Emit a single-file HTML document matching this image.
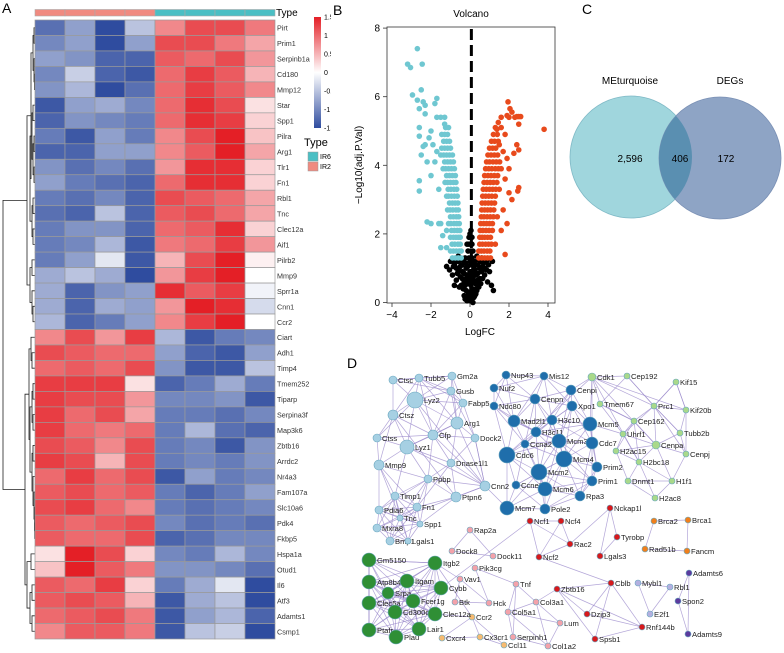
<!DOCTYPE html>
<html><head><meta charset="utf-8">
<style>
html,body{margin:0;padding:0;background:#fff;}
body{width:784px;height:653px;position:relative;overflow:hidden;font-family:"Liberation Sans",sans-serif;}
svg{position:absolute;left:0;top:0;}
text{font-family:"Liberation Sans",sans-serif;}
</style></head>
<body>
<svg id="fig" width="784" height="653" viewBox="0 0 784 653">
  <defs>
    <linearGradient id="cbar" x1="0" y1="0" x2="0" y2="1">
      <stop offset="0" stop-color="#e41f26"/>
      <stop offset="0.5" stop-color="#ffffff"/>
      <stop offset="1" stop-color="#2f4c9f"/>
    </linearGradient>
    <clipPath id="clipA"><rect x="0" y="0" width="331" height="653"/></clipPath>
    <clipPath id="clipLeft"><circle cx="631" cy="157" r="61"/></clipPath>
  </defs>
  <g id="panelA" clip-path="url(#clipA)">
    <text x="2" y="13" font-size="14">A</text>
    <g id="dendro"></g>
    <g id="typebar"></g>
    <g id="cells"></g>
    <g id="rowlabels"></g>
    <text x="276" y="16" font-size="10">Type</text>
    <rect x="314" y="17" width="7" height="111" fill="url(#cbar)"/>
    <g id="cbticks" font-size="7"></g>
    <text x="304" y="146" font-size="11">Type</text>
    <rect x="308" y="152" width="10" height="9" fill="#4bbfc4" stroke="#999" stroke-width="0.5"/>
    <text x="320" y="159" font-size="7">IR6h</text>
    <rect x="308" y="162" width="10" height="9" fill="#f08a80" stroke="#999" stroke-width="0.5"/>
    <text x="320" y="169" font-size="7">IR24h</text>
  </g>

  <g id="panelB">
    <text x="333" y="15" font-size="14">B</text>
    <text x="471" y="17" font-size="10" text-anchor="middle">Volcano</text>
    <rect x="387" y="27" width="168" height="276" fill="none" stroke="#333" stroke-width="0.8"/>
    <g id="vpoints"></g>
    <line id="vline" x1="0" x2="0" y1="29" y2="302" stroke="#000" stroke-width="3" stroke-dasharray="11,5"/>
    <g id="vaxes" font-size="10"></g>
    <text x="480" y="335" font-size="10" text-anchor="middle">LogFC</text>
    <text x="0" y="0" font-size="10" text-anchor="middle" transform="translate(362,165) rotate(-90)">−Log10(adj.P.Val)</text>
  </g>

  <g id="panelC">
    <text x="582" y="14" font-size="14">C</text>
    <text x="630" y="84" font-size="10" text-anchor="middle">MEturquoise</text>
    <text x="730" y="84" font-size="10" text-anchor="middle">DEGs</text>
    <circle cx="631" cy="157" r="61" fill="#a0d6dd" stroke="#7fb9c6" stroke-width="0.8"/>
    <circle cx="720" cy="158" r="61" fill="#8ea4c5" stroke="#7a90b5" stroke-width="0.8"/>
    <circle cx="720" cy="158" r="61" fill="#5a8fb1" clip-path="url(#clipLeft)"/>
    <text x="630" y="162" font-size="10" text-anchor="middle">2,596</text>
    <text x="680" y="162" font-size="10" text-anchor="middle">406</text>
    <text x="726" y="162" font-size="10" text-anchor="middle">172</text>
  </g>

  <g id="panelD">
    <text x="347" y="368" font-size="14">D</text>
    <g id="edges"></g>
    <g id="nodes"></g>
  </g>
</svg>
<script>
var NS='http://www.w3.org/2000/svg';
function mk(tag,attrs,parent){var e=document.createElementNS(NS,tag);for(var k in attrs)e.setAttribute(k,attrs[k]);if(parent)parent.appendChild(e);return e;}

/* ---------- Heatmap data ---------- */
var genes=["Pirt","Prim1","Serpinb1a","Cd180","Mmp12","Star","Spp1","Pilra","Arg1","Tlr1","Fn1","Rbl1","Tnc","Clec12a","Aif1","Pilrb2","Mmp9","Sprr1a","Cnn1","Ccr2","Ciart","Adh1","Timp4","Tmem252","Tiparp","Serpina3f","Map3k6","Zbtb16","Arrdc2","Nr4a3","Fam107a","Slc10a6","Pdk4","Fkbp5","Hspa1a","Otud1","Il6","Atf3","Adamts1","Csmp1"];
var sampleTypes=["IR24h","IR24h","IR24h","IR24h","IR6h","IR6h","IR6h","IR6h"];
var heatValues=[
[-1.2,-0.8,-1.5,-0.5,0.8,1.2,1.2,0.9],
[-1.0,-0.8,-1.5,-0.8,1.2,1.2,0.9,0.6],
[-0.8,-0.9,-1.3,-1.3,1.1,1.0,1.2,0.7],
[-1.0,-0.4,-1.3,-1.4,1.0,1.3,1.1,0.5],
[-0.9,-0.6,-1.5,-1.2,1.0,1.3,1.1,0.8],
[-1.4,-0.8,-0.7,-1.0,1.0,1.4,1.2,0.2],
[-1.3,-0.9,-1.0,-1.1,1.0,1.4,1.3,0.3],
[-1.1,-1.4,-0.8,-1.1,0.8,1.2,1.5,0.4],
[-1.3,-1.3,-0.8,-0.8,0.8,1.1,1.5,0.6],
[-0.9,-1.2,-1.0,-1.2,0.7,1.4,1.4,0.3],
[-0.8,-1.1,-1.2,-1.3,1.0,1.4,1.4,0.3],
[-1.1,-1.2,-1.0,-1.3,1.2,1.1,1.0,0.6],
[-1.2,-1.3,-0.5,-1.3,1.1,1.2,1.0,0.6],
[-1.1,-0.9,-0.9,-1.3,1.0,1.1,1.4,0.3],
[-1.1,-1.0,-0.6,-1.4,0.9,1.0,1.3,0.7],
[-1.1,-0.8,-0.2,-1.4,0.5,1.2,1.6,0.1],
[-0.7,-0.5,-0.7,-1.5,0.7,1.3,1.6,0.0],
[-0.7,-1.3,-0.9,-0.8,1.4,1.1,1.3,-0.1],
[-0.7,-1.3,-0.7,-0.8,0.7,1.5,1.4,-0.3],
[-0.6,-1.3,-1.1,-0.8,0.8,1.3,1.6,0.0],
[0.8,1.2,0.7,1.3,-0.6,-1.4,-1.1,-1.0],
[1.2,1.1,1.0,1.0,-0.8,-1.3,-1.4,-0.8],
[1.0,1.1,1.0,1.2,-0.9,-1.4,-1.4,-0.5],
[1.3,1.3,1.3,0.2,-1.3,-1.1,-0.7,-1.1],
[1.3,1.2,1.2,0.7,-1.0,-1.0,-0.9,-1.4],
[1.3,1.0,1.2,0.6,-1.1,-1.1,-1.2,-1.0],
[1.3,1.0,0.9,1.0,-1.1,-0.6,-1.2,-1.3],
[1.2,1.1,0.8,1.2,-1.1,-1.0,-1.4,-0.9],
[1.3,1.2,0.5,1.2,-1.1,-1.0,-1.1,-0.9],
[1.0,1.3,1.0,1.2,-1.4,-0.8,-1.1,-1.0],
[1.1,1.2,1.0,1.1,-1.1,-1.3,-1.1,-0.8],
[1.2,1.3,1.0,0.8,-1.1,-1.2,-1.1,-1.0],
[1.1,1.0,1.1,1.2,-1.0,-1.2,-1.1,-1.2],
[1.1,1.0,1.0,1.2,-1.3,-1.2,-1.0,-1.0],
[0.2,1.6,1.2,0.3,-1.0,-1.1,-0.6,-1.0],
[0.4,1.5,1.1,0.9,-0.9,-0.9,-1.0,-1.2],
[1.1,1.0,1.3,0.3,-1.1,-0.7,-0.2,-1.5],
[1.1,1.2,1.1,0.5,-1.4,-0.7,-0.5,-1.5],
[1.0,1.1,1.2,0.9,-1.4,-0.8,-0.6,-1.3],
[0.8,1.1,1.1,0.9,-1.4,-0.5,-0.4,-1.5]];
var colorScaleTicks=["1.5","1","0.5","0","-0.5","-1","-1.5"];
var dendroTree=[3,
 [27,[31,[33,[34,0,1],[34,2,[34.5,3,4]]],[30,[32,[33,5,6],[33,[34,7,8],[34,9,10]]],[32,[33,11,12],[33,13,14]]]],[30,[32,15,16],[32,17,[33,18,19]]]],
 [25,[29,[31,20,[32,21,22]],[30,[32,[33,23,24],[33,25,26]],[32,[33,27,28],[33,29,[34,30,[34.5,31,[34.7,32,33]]]]]]],[27,[31,34,35],[30,[32,36,37],[32,38,39]]]]];

var HX0=35,HX1=275,HY0=20,HY1=639;
var cw=(HX1-HX0)/sampleTypes.length, ch=(HY1-HY0)/genes.length;
function colX(j){return HX0+j*cw;}
function rowY(i){return HY0+i*ch;}
function heatColor(v){
  var t=Math.max(-1,Math.min(1,v/1.5));
  var c1=[255,255,255],c2=t>=0?[228,31,38]:[47,76,159];var a=Math.abs(t);
  var r=Math.round(c1[0]+(c2[0]-c1[0])*a),g=Math.round(c1[1]+(c2[1]-c1[1])*a),b=Math.round(c1[2]+(c2[2]-c1[2])*a);
  return 'rgb('+r+','+g+','+b+')';
}
var gCells=document.getElementById('cells'),gLab=document.getElementById('rowlabels'),gType=document.getElementById('typebar');
sampleTypes.forEach(function(t,j){
  var r=mk('rect',{x:colX(j),y:9.5,width:cw,height:6.5,fill:t==='IR6h'?'#4bbfc4':'#f08a80',stroke:'#aaa','stroke-width':0.6},gType);
  
  
});
heatValues.forEach(function(row,i){
  row.forEach(function(v,j){
    var r=mk('rect',{x:colX(j),y:rowY(i),width:cw,height:ch,fill:heatColor(v),stroke:'#9a9a9a','stroke-width':0.7},gCells);
    
    
  });
  var t=mk('text',{x:277,y:rowY(i)+ch/2+3,'font-size':7.2,fill:'#333'},gLab);
  t.textContent=genes[i];
  
  
});
var gcb=document.getElementById('cbticks');
colorScaleTicks.forEach(function(s,k){
  var v=parseFloat(s);var y=17+(1.5-v)/3*111;
  var t=mk('text',{x:324,y:y+2.5},gcb);t.textContent=s;
  
  
});
var gD=document.getElementById('dendro');
function drawNode(n){
  if(typeof n==='number')return {x:HX0,y:rowY(n)+ch/2};
  var a=drawNode(n[1]),b=drawNode(n[2]),x=n[0];
  var p=mk('path',{d:'M'+a.x+','+a.y+'H'+x+'V'+b.y+'H'+b.x,fill:'none',stroke:'#222','stroke-width':0.8},gD);
  
  
  return {x:x,y:(a.y+b.y)/2};
}
drawNode(dendroTree);

/* ---------- Volcano data ---------- */
var upPoints=[[1.95,5.85],[2.05,5.65],[2.15,5.55],[1.9,5.45],[2.0,5.4],[1.6,5.4],[2.3,5.4],[2.4,5.42],[2.5,5.42],[2.6,5.42],[2.5,5.2],[1.3,5.1],[1.6,5.1],[1.8,4.9],[1.4,4.9],[2.4,4.6],[2.5,4.45],[2.25,4.35],[3.8,5.05],[2.0,3.9],[1.8,3.6],[2.5,3.35],[2.45,3.25],[2.0,3.2],[2.15,3.0],[1.7,2.7],[1.9,2.3],[1.6,2.1],[1.8,1.4],[1.3,1.7],[1.5,4.6],[1.7,4.4],[1.9,4.2],[1.6,3.9],[1.5,3.3],[1.4,2.5],
[0.45,1.3],[0.6,1.3],[0.75,1.3],[0.9,1.3],[1.05,1.3],[0.45,1.5],[0.58,1.5],[0.72,1.5],[0.88,1.5],[1.02,1.5],[0.5,1.7],[0.64,1.7],[0.8,1.7],[0.95,1.7],[1.1,1.7],[0.5,1.9],[0.62,1.9],[0.75,1.9],[0.9,1.9],[1.05,1.9],[0.52,2.1],[0.66,2.1],[0.82,2.1],[0.98,2.1],[1.15,2.1],[0.55,2.3],[0.7,2.3],[0.85,2.3],[1.0,2.3],[1.15,2.3],[0.58,2.5],[0.72,2.5],[0.88,2.5],[1.04,2.5],[1.2,2.5],[0.6,2.7],[0.75,2.7],[0.9,2.7],[1.05,2.7],[1.22,2.7],[0.62,2.9],[0.78,2.9],[0.94,2.9],[1.1,2.9],[1.26,2.9],[0.65,3.1],[0.8,3.1],[0.96,3.1],[1.12,3.1],[1.3,3.1],[0.68,3.3],[0.84,3.3],[1.0,3.3],[1.16,3.3],[1.32,3.3],[0.72,3.5],[0.88,3.5],[1.04,3.5],[1.2,3.5],[1.38,3.5],[0.75,3.7],[0.92,3.7],[1.08,3.7],[1.25,3.7],[1.42,3.7],[0.8,3.9],[0.96,3.9],[1.12,3.9],[1.3,3.9],[1.46,3.9],[0.85,4.1],[1.0,4.1],[1.18,4.1],[1.35,4.1],[1.52,4.1],[0.92,4.3],[1.08,4.3],[1.25,4.3],[1.42,4.3],[1.0,4.5],[1.16,4.5],[1.32,4.5],[1.1,4.7],[1.26,4.7],[1.45,4.7],[1.2,4.9],[1.38,5.05],[1.45,5.25]];
var downPoints=[[-2.7,7.4],[-3.2,6.95],[-3.05,6.85],[-2.45,6.95],[-2.95,6.05],[-2.5,6.2],[-2.7,5.9],[-2.4,5.85],[-2.3,5.75],[-1.7,5.95],[-1.8,5.8],[-2.6,5.65],[-2.3,5.5],[-1.5,5.4],[-1.7,5.4],[-1.3,5.4],[-2.6,5.1],[-2.0,5.0],[-2.6,4.85],[-2.1,4.8],[-1.3,5.2],[-1.1,5.1],[-2.3,4.6],[-2.4,4.55],[-1.9,4.6],[-2.5,4.3],[-2.2,4.1],[-2.6,3.55],[-2.6,3.25],[-2.0,3.7],[-2.2,2.35],[-2.0,2.3],[-1.6,2.3],[-1.5,2.3],[-1.2,2.1],[-1.4,1.95],[-1.5,1.6],[-1.2,1.6],[-1.7,4.4],[-1.8,4.1],[-1.6,3.3],
[-0.45,1.3],[-0.6,1.3],[-0.75,1.3],[-0.9,1.3],[-0.45,1.5],[-0.55,1.5],[-0.7,1.5],[-0.85,1.5],[-1.0,1.5],[-0.5,1.7],[-0.62,1.7],[-0.78,1.7],[-0.92,1.7],[-0.5,1.9],[-0.6,1.9],[-0.72,1.9],[-0.85,1.9],[-1.0,1.9],[-0.52,2.1],[-0.65,2.1],[-0.8,2.1],[-0.95,2.1],[-0.55,2.3],[-0.68,2.3],[-0.82,2.3],[-0.98,2.3],[-1.1,2.3],[-0.58,2.5],[-0.7,2.5],[-0.85,2.5],[-1.0,2.5],[-0.6,2.7],[-0.72,2.7],[-0.88,2.7],[-1.02,2.7],[-1.15,2.7],[-0.62,2.9],[-0.76,2.9],[-0.9,2.9],[-1.05,2.9],[-0.65,3.1],[-0.8,3.1],[-0.95,3.1],[-1.1,3.1],[-1.2,3.1],[-0.68,3.3],[-0.82,3.3],[-0.98,3.3],[-1.12,3.3],[-0.72,3.5],[-0.85,3.5],[-1.0,3.5],[-1.15,3.5],[-1.28,3.5],[-0.75,3.7],[-0.9,3.7],[-1.05,3.7],[-1.2,3.7],[-0.8,3.9],[-0.95,3.9],[-1.1,3.9],[-1.25,3.9],[-1.38,3.9],[-0.85,4.1],[-1.0,4.1],[-1.15,4.1],[-1.3,4.1],[-0.9,4.3],[-1.05,4.3],[-1.2,4.3],[-1.35,4.3],[-1.5,4.3],[-1.0,4.5],[-1.15,4.5],[-1.3,4.5],[-1.45,4.5],[-1.05,4.7],[-1.2,4.7],[-1.35,4.7],[-1.15,4.9],[-1.3,4.9],[-1.45,4.9],[-1.25,5.1]];
var nsPoints=[[0,0.05],[0.1,0.1],[-0.1,0.2],[0.2,0.3],[-0.2,0.35],[0.05,0.5],[0.3,0.55],[-0.3,0.6],[0.15,0.7],[-0.15,0.8],[0.4,0.85],[-0.4,0.9],[0.5,1.0],[-0.5,1.05],[0.3,1.1],[-0.3,1.15],[0.55,1.2],[-0.6,1.2],[0.45,1.25],[-0.45,1.25],[0.2,1.0],[-0.2,1.0],[0.0,0.3],[0.0,0.9],[0.1,1.3],[-0.1,1.5],[0.1,1.7],[-0.05,1.9],[0.05,2.1],[0.25,0.2],[-0.25,0.1],[0.6,0.9],[-0.7,1.0],[-0.9,0.8],[-1.2,1.05],[1.1,0.5],[0.8,1.2],[0.9,0.6],[-0.8,0.5],[0.35,0.35],[-0.35,0.4],[0.7,1.15],[-0.75,1.2],[0.95,1.1],[-1.0,1.2],[0.15,0.0],[-0.05,0.65],[0.25,0.95],[-0.25,1.3],[0.35,1.35],[0.1,0.4],[-0.1,0.55],[0.2,0.6],[-0.2,0.7],[0.3,0.8],[-0.3,0.85],[0.4,1.1],[-0.4,1.1],[0.6,1.3],[-0.6,1.35],[0.05,1.1],[-0.05,1.3],[0.15,1.5],[-0.15,1.7],[0.0,0.15],[0.08,0.25],[-0.08,0.3],
[0.5,0.7],[-0.5,0.75],[0.65,1.05],[-0.65,0.85],[0.45,0.45],[-0.45,0.5],[0.3,0.25],[-0.3,0.2],[0.75,0.8],[-0.7,0.65],[0.85,0.95],[-0.85,1.05],[0.55,0.55],[-0.55,0.45],[0.2,0.15],[-0.15,0.05],[0.0,0.6],[0.12,0.85],[-0.12,1.05],[0.22,1.2],[-0.22,1.15],[0.4,0.65],[-0.4,0.7],[0.65,0.7],[-0.6,0.95],[0.75,1.0],[-0.8,1.1],[0.9,1.25],[-0.9,1.25],[1.0,0.9],[-1.05,0.95],[0.3,0.4],[-0.25,0.5],[0.1,0.7],[-0.05,0.8],[0.15,1.1],[0.0,1.2],[0.05,1.5],[-0.05,1.7],[0.1,1.9],[0.0,2.0],[1.15,1.2],[1.2,0.35]];
var xTicks=[-4,-2,0,2,4];
var yTicks=[0,2,4,6,8];
var thresholdFC=[0.07];
function vx(v){return 392+(v+4)*19.5;}
function vy(v){return 302.5-v*34.3;}
var gV=document.getElementById('vpoints');
function plotPts(arr,col,name){arr.forEach(function(p){
  var c=mk('circle',{cx:vx(p[0]),cy:vy(p[1]),r:2.8,fill:col},gV);
  
  
});}
plotPts(nsPoints,'#000','point-not-significant');
plotPts(downPoints,'#6fc7d1','point-downregulated');
plotPts(upPoints,'#e84a1c','point-upregulated');
var vl=document.getElementById('vline');vl.setAttribute('x1',vx(thresholdFC[0]));vl.setAttribute('x2',vx(thresholdFC[0]));
var gA=document.getElementById('vaxes');
xTicks.forEach(function(t){
  var l=mk('line',{x1:vx(t),x2:vx(t),y1:303,y2:307,stroke:'#333','stroke-width':0.8},gA);
  
  
  var s=mk('text',{x:vx(t),y:318,'text-anchor':'middle'},gA);s.textContent=(t<0?'−':'')+Math.abs(t);
  
  
});
yTicks.forEach(function(t){
  var l=mk('line',{x1:383,x2:387,y1:vy(t),y2:vy(t),stroke:'#333','stroke-width':0.8},gA);
  
  
  var s=mk('text',{x:380,y:vy(t)+3.5,'text-anchor':'end'},gA);s.textContent=t;
  
  
});

/* ---------- Network data ---------- */
var groupColors={lb:'#a6d0e3',db:'#1f6eab',lg:'#a9d98a',dg:'#2f8f35',red:'#d7191c',org:'#f07f1c',lav:'#b3b0e0',pur:'#5b3b9e',pink:'#f3a2aa',lorg:'#f6bb72'};
var nodeNames=["Ctsc","Tubb5","Gm2a","Gusb","Lyz2","Fabp5","Ctsz","Arg1","Cfp","Dock2","Ctss","Lyz1","Dnase1l1","Mmp9","Ppbp","Cnn2","Ptpn6","Timp1","Fn1","Pdia6","Tnc","Spp1","Mxra8","Bmp1","Lgals1",
"Nup43","Mis12","Nuf2","Cenpi","Cenpn","Ndc80","Xpo1","Mad2l1","H3c10","Mcm5","H3c11","Ccna2","Mcm3","Cdc7","Cdc6","Mcm4","Prim2","Mcm2","Prim1","Ccne2","Mcm6","Rpa3","Mcm7","Pole2",
"Cdk1","Cep192","Kif15","Tmem67","Prc1","Kif20b","Cep162","Tubb2b","Uhrf1","Cenpa","H2ac15","Cenpj","H2bc18","Dnmt1","H1f1","H2ac8",
"Nckap1l","Ncf1","Ncf4","Tyrobp","Rac2","Ncf2","Lgals3","Zbtb16","Cblb","Dzip3","Rnf144b","Spsb1",
"Brca2","Brca1","Rad51b","Fancm","Mybl1","Rbl1","E2f1","Adamts6","Spon2","Adamts9",
"Rap2a","Dock8","Dock11","Pik3cg","Vav1","Tnf","Btk","Hck","Col3a1","Col5a1","Lum","Serpinh1","Col1a2",
"Ccr2","Cxcr4","Cx3cr1","Ccl11",
"Gm5150","Itgb2","Atp8b4","Itgam","Cybb","Srpa","Fcer1g","Clec5a","Cd300c2","Clec12a","Ptafr","Lair1","Plau"];
var nodeX=[393,419,452,451,415,463,393,457,433,475,377,407,451,379,428,485,456,395,417,379,400,420,377,390,408,
506,544,494,571,535,494,572,514,552,590,536,525,559,592,507,564,597,539,592,516,545,580,507,545,
592,627,676,600,654,686,634,680,623,656,616,686,639,628,672,655,
610,530,561,617,570,539,600,557,611,587,642,595,
654,688,645,687,638,670,650,689,678,688,
470,452,493,475,460,516,455,489,536,508,560,513,548,
472,442,480,504,
369,435,369,407,441,388,413,369,395,435,369,419,396];
var nodeY=[380,378,376,391,400,403,415,423,435,438,438,447,463,465,479,486,497,496,507,510,518,524,528,541,541,
375,376,388,390,399,406,406,421,420,424,432,444,441,443,455,459,467,472,481,485,489,496,508,509,
377,376,382,404,406,410,421,433,434,445,451,454,462,481,481,498,
508,521,521,537,544,557,556,589,583,614,627,639,
521,520,549,551,583,587,614,573,601,634,
530,551,556,568,579,584,602,603,602,612,623,637,646,
617,638,637,645,
560,563,582,581,588,593,601,603,612,614,630,629,637];
var nodeSize=[4,4,4,4,8,4,5,6,5,4,4,7,4,5,4,5,5,4,4,4,3,3,4,4,3,
4,4,4,5,5,4,5,6,5,7,5,4,7,6,8,8,5,8,5,4,7,5,7,5,
4,3,3,3,3,3,3,3,3,4,3,3,3,3,3,3,
3,3,3,3,3,3,3,3,3,3,3,3,
3,3,3,3,3,3,3,3,3,3,
3,3,3,3,3,3,3,3,3,3,3,3,3,
3,3,3,3,
7,7,7,7,7,6,7,7,7,7,7,7,7];
var nodeGroup=[].concat(Array(25).fill('lb'),Array(24).fill('db'),Array(16).fill('lg'),Array(12).fill('red'),Array(4).fill('org'),Array(3).fill('lav'),Array(3).fill('pur'),Array(13).fill('pink'),Array(4).fill('lorg'),Array(13).fill('dg'));
var clusterLinkRange={lb:60,db:55,lg:45,dg:80};
var extraEdges=[["Ncf1","Ncf4"],["Ncf1","Ncf2"],["Ncf1","Rac2"],["Ncf4","Rac2"],["Ncf4","Ncf2"],["Rac2","Ncf2"],["Nckap1l","Tyrobp"],["Nckap1l","Lgals3"],["Nckap1l","Rac2"],["Tyrobp","Lgals3"],["Ncf2","Cblb"],["Zbtb16","Rnf144b"],["Zbtb16","Spsb1"],["Zbtb16","Dzip3"],["Zbtb16","Cblb"],["Cblb","Spsb1"],["Cblb","Dzip3"],["Cblb","Rnf144b"],["Dzip3","Rnf144b"],["Spsb1","Rnf144b"],["Brca2","Brca1"],["Brca2","Rad51b"],["Rad51b","Fancm"],["Brca1","Fancm"],["Mybl1","Rbl1"],["Rbl1","E2f1"],["Mybl1","E2f1"],["Adamts6","Spon2"],["Spon2","Adamts9"],["Adamts6","Adamts9"],["Rap2a","Dock8"],["Rap2a","Dock11"],["Dock8","Dock11"],["Pik3cg","Tnf"],["Pik3cg","Hck"],["Vav1","Btk"],["Vav1","Hck"],["Btk","Hck"],["Tnf","Col3a1"],["Tnf","Col5a1"],["Tnf","Serpinh1"],["Col3a1","Col5a1"],["Col3a1","Lum"],["Col3a1","Col1a2"],["Col5a1","Lum"],["Col5a1","Serpinh1"],["Col5a1","Col1a2"],["Lum","Col1a2"],["Serpinh1","Col1a2"],["Col3a1","Zbtb16"],["Ccr2","Cxcr4"],["Ccr2","Cx3cr1"],["Ccr2","Ccl11"],["Cxcr4","Cx3cr1"],["Cx3cr1","Ccl11"],["Cdk1","Mcm5"],["Cdk1","Cdc7"],["Cdk1","Cenpi"],["Cdk1","Prc1"],["Cdk1","Kif20b"],["Cdk1","Cenpa"],["Cep192","Prc1"],["Kif15","Prc1"],["Kif15","Kif20b"],["Prc1","Tubb2b"],["Prc1","Cenpj"],["Cdk1","H2bc18"],["Tmem67","Cep162"],["Mcm5","Uhrf1"],["Cdc6","Cdk1"],["Cnn2","Mcm7"],["Ptpn6","Cnn2"],["Dock2","Cnn2"],["Arg1","Cnn2"],["Lyz1","Cnn2"],["Lyz2","Cnn2"],["Cfp","Cnn2"],["Ptpn6","Ctsz"],["Gm5150","Itgb2"],["Itgb2","Vav1"],["Cybb","Ncf1"],["Itgb2","Ccr2"],["Clec12a","Ccr2"]];
var idx={};nodeNames.forEach(function(n,i){idx[n]=i;});
var gE=document.getElementById('edges'),gN=document.getElementById('nodes');
function edge(i,j){
  var l=mk('line',{x1:nodeX[i],y1:nodeY[i],x2:nodeX[j],y2:nodeY[j],stroke:'#9a88cb','stroke-width':0.7,'stroke-opacity':0.75},gE);
  
  
}
for(var i=0;i<nodeNames.length;i++)for(var j=i+1;j<nodeNames.length;j++){
  var g=nodeGroup[i];if(g!==nodeGroup[j]||!clusterLinkRange[g])continue;
  var d=Math.hypot(nodeX[i]-nodeX[j],nodeY[i]-nodeY[j]);
  if(d<clusterLinkRange[g])edge(i,j);
}
extraEdges.forEach(function(e){edge(idx[e[0]],idx[e[1]]);});
nodeNames.forEach(function(n,i){
  var col=groupColors[nodeGroup[i]];
  var c=mk('circle',{cx:nodeX[i],cy:nodeY[i],r:nodeSize[i],fill:col,stroke:'#6aa7bf','stroke-width':0.6},gN);
  
  
  var t=mk('text',{x:nodeX[i]+nodeSize[i]+1,y:nodeY[i]+3,'font-size':7.6,fill:'#222'},gN);
  t.textContent=n;
  
  
});
</script>
</body></html>
